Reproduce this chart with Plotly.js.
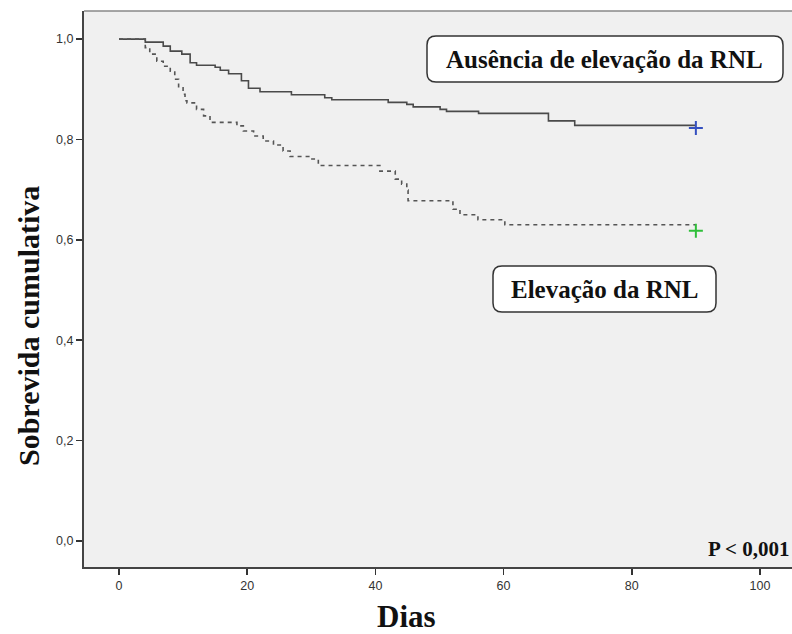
<!DOCTYPE html>
<html>
<head>
<meta charset="utf-8">
<script src="https://cdn.plot.ly/plotly-3.0.1.min.js"></script>
<style>html,body{margin:0;padding:0;background:#fff;}#chart{width:792px;height:634px;}</style>
</head>
<body>
<div id="chart"></div>
<script>
// Kaplan-Meier data
const solidDays = [0, 4.1, 6.9, 8.0, 9.8, 11.1, 12.1, 15.0, 15.8, 17.1, 19.1, 20.2, 22.0, 26.9, 32.1, 33.2, 42.0, 44.9, 45.9, 50.1, 51.1, 56.1, 67.0, 71.1, 90];
const solidSurv = [1.0, 0.994, 0.986, 0.976, 0.970, 0.953, 0.948, 0.944, 0.938, 0.931, 0.917, 0.902, 0.895, 0.889, 0.883, 0.879, 0.874, 0.870, 0.865, 0.860, 0.856, 0.852, 0.837, 0.828, 0.828];
const dashedDays = [0, 4.1, 4.8, 5.9, 6.9, 8.0, 8.7, 9.3, 10.0, 10.3, 10.6, 12.1, 13.2, 14.2, 18.4, 19.4, 21.0, 22.5, 24.1, 25.6, 26.7, 30.1, 31.1, 40.7, 43.1, 44.1, 44.9, 45.1, 52.1, 53.2, 56.0, 60.2, 90];
const dashedSurv = [1.0, 0.983, 0.970, 0.956, 0.946, 0.936, 0.920, 0.903, 0.890, 0.877, 0.873, 0.860, 0.847, 0.834, 0.827, 0.817, 0.807, 0.797, 0.789, 0.777, 0.766, 0.761, 0.748, 0.737, 0.721, 0.711, 0.699, 0.678, 0.661, 0.650, 0.640, 0.630, 0.630];
const censorDays = [90];
const solidCensor = [0.823];
const dashedCensor = [0.618];
const xTicks = [0, 20, 40, 60, 80, 100];
const yTicks = [0, 0.2, 0.4, 0.6, 0.8, 1.0];
const labelSolid = 'Ausência de elevação da RNL';
const labelDashed = 'Elevação da RNL';
const pText = 'P < 0,001';
const xTitle = 'Dias';
const yTitle = 'Sobrevida cumulativa';

// layout geometry (pixels)
const W = 792, H = 634, L = 84, R = 0, T = 11, B = 67;
const PW = W - L - R, PH = H - T - B;
const X = px => (px - L) / PW;
const Y = py => (H - B - py) / PH;
function rrect(x0, y0, x1, y1, r) {
  const f = (a, b) => X(a).toFixed(5) + ',' + Y(b).toFixed(5);
  return 'M' + f(x0 + r, y0) + ' L' + f(x1 - r, y0) + ' Q' + f(x1, y0) + ' ' + f(x1, y0 + r) +
    ' L' + f(x1, y1 - r) + ' Q' + f(x1, y1) + ' ' + f(x1 - r, y1) +
    ' L' + f(x0 + r, y1) + ' Q' + f(x0, y1) + ' ' + f(x0, y1 - r) +
    ' L' + f(x0, y0 + r) + ' Q' + f(x0, y0) + ' ' + f(x0 + r, y0) + ' Z';
}

const serif = '"Liberation Serif", "Times New Roman", serif';
const sans = '"Liberation Sans Narrow", "Liberation Sans", Arial, sans-serif';

const traces = [
  {x: solidDays, y: solidSurv, type: 'scatter', mode: 'lines', line: {shape: 'hv', color: '#4a4a4a', width: 1.6}, hoverinfo: 'skip'},
  {x: dashedDays, y: dashedSurv, type: 'scatter', mode: 'lines', line: {shape: 'hv', color: '#555', width: 1.6, dash: '4px,4px'}, hoverinfo: 'skip'},
  {x: censorDays, y: solidCensor, type: 'scatter', mode: 'markers', marker: {symbol: 'cross-thin', size: 10, line: {color: '#3550c0', width: 2}}},
  {x: censorDays, y: dashedCensor, type: 'scatter', mode: 'markers', marker: {symbol: 'cross-thin', size: 10, line: {color: '#2fbf3a', width: 2}}}
];

const layout = {
  width: W, height: H,
  margin: {l: L, r: R, t: T, b: B, pad: 0},
  paper_bgcolor: '#ffffff',
  plot_bgcolor: '#f0f0f0',
  showlegend: false,
  separators: ',.',
  font: {family: sans, size: 12, color: '#333'},
  xaxis: {
    range: [-5.46, 105], tickvals: xTicks, ticks: 'outside', ticklen: 6, tickwidth: 1.5, tickcolor: '#333',
    showgrid: false, zeroline: false, showline: true, linecolor: '#444', linewidth: 2,
    tickfont: {family: sans, size: 12.5, color: '#333'}
  },
  yaxis: {
    range: [-0.052, 1.056], tickvals: yTicks, tickformat: '.1f', ticks: 'outside', ticklen: 6, tickwidth: 1.5, tickcolor: '#333',
    showgrid: false, zeroline: false, showline: true, linecolor: '#444', linewidth: 2,
    tickfont: {family: sans, size: 12.5, color: '#333'}
  },
  shapes: [
    {type: 'line', xref: 'paper', yref: 'paper', x0: 0, x1: 1, y0: 1, y1: 1, line: {color: '#888', width: 1.5}},
    {type: 'path', xref: 'paper', yref: 'paper', path: rrect(427, 36, 783, 82, 9), fillcolor: '#ffffff', line: {color: '#333', width: 1.5}},
    {type: 'path', xref: 'paper', yref: 'paper', path: rrect(493, 266, 716, 312, 9), fillcolor: '#ffffff', line: {color: '#333', width: 1.5}}
  ],
  annotations: [
    {xref: 'paper', yref: 'paper', x: X(604), y: Y(59), text: '<b>' + labelSolid + '</b>', showarrow: false, xanchor: 'center', yanchor: 'middle', font: {family: serif, size: 25, color: '#111'}},
    {xref: 'paper', yref: 'paper', x: X(604.5), y: Y(289), text: '<b>' + labelDashed + '</b>', showarrow: false, xanchor: 'center', yanchor: 'middle', font: {family: serif, size: 25, color: '#111'}},
    {xref: 'paper', yref: 'paper', x: X(791), y: Y(549), text: '<b>' + pText + '</b>', showarrow: false, xanchor: 'right', yanchor: 'middle', font: {family: serif, size: 21, color: '#111'}},
    {xref: 'paper', yref: 'paper', x: X(406), y: Y(617), text: '<b>' + xTitle + '</b>', showarrow: false, xanchor: 'center', yanchor: 'middle', font: {family: serif, size: 31, color: '#111'}},
    {xref: 'paper', yref: 'paper', x: X(28), y: Y(326), text: '<b>' + yTitle + '</b>', textangle: -90, showarrow: false, xanchor: 'center', yanchor: 'middle', font: {family: serif, size: 30, color: '#111'}}
  ]
};

Plotly.newPlot('chart', traces, layout, {displayModeBar: false, staticPlot: true});
</script>
</body>
</html>
